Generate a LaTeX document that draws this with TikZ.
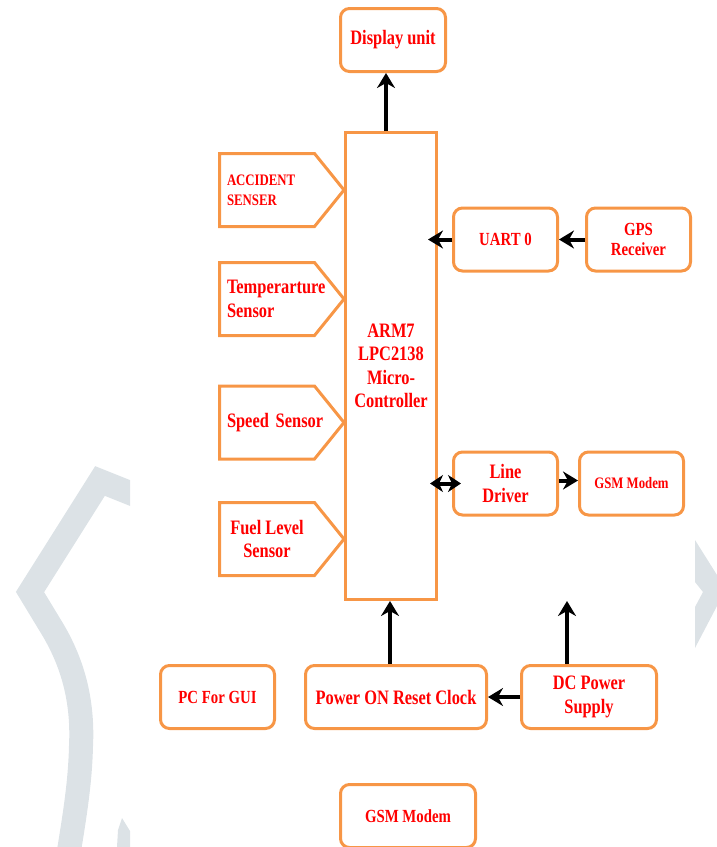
\documentclass[tikz,border=0pt]{standalone}
\usepackage{fontspec}
\setmainfont{Liberation Serif}[FakeStretch=0.8]
\usetikzlibrary{arrows.meta, positioning}
\definecolor{boxorange}{HTML}{F79646}
\definecolor{textred}{HTML}{FF0000}
\definecolor{markgrey}{HTML}{DCE2E6}
\newcommand{\txtbig}{\bfseries\fontsize{20.5}{23.5}\selectfont}
\newcommand{\txtmid}{\bfseries\fontsize{18.5}{20}\selectfont}
\newcommand{\txttiny}{\bfseries\fontsize{16}{20}\selectfont}

\begin{document}
\begin{tikzpicture}[x=1pt, y=-1pt,
block/.style  ={rectangle, draw=boxorange, line width=3pt, rounded corners=9pt, text=textred, align=center, font=\txtbig, minimum width=104pt, minimum height=63pt},
chip/.style   ={rectangle, draw=boxorange, line width=3pt, text=textred, align=center, font=\txtbig, minimum width=91pt, minimum height=467pt},
sensor/.style ={rectangle, text=textred, font=\txtbig, minimum width=95pt, minimum height=73pt, inner sep=0pt, outer sep=0pt},
outline/.style={draw=boxorange, line width=3pt, line join=miter},
line/.style   ={draw, line width=4pt, -{Stealth[length=15pt,width=18pt,inset=5pt]}},
biline/.style ={draw, line width=4pt, {Stealth[length=13pt,width=17pt,inset=4pt]}-{Stealth[length=13pt,width=17pt,inset=4pt]}},
node distance=26pt]

\clip (0,0) rectangle (717,847);

% grey mark behind the diagram
\begin{scope}
\clip (0,0) rectangle (130,847);
\draw[markgrey, line width=24pt, line join=miter] (140,497) -- (100,481) -- (30,592) -- (50,625) .. controls (75,665) and (83,705) .. (81,746) .. controls (80,790) and (72,830) .. (66,870);
\fill[markgrey] (117,847) -- (118,830) -- (122,818) -- (130,831) -- (130,847) -- cycle;
\end{scope}
\fill[markgrey] (695,540) -- (717,575) -- (717,606) -- (695,648) -- (695,607) -- (703,592) -- (695,582) -- cycle;

% Define the nodes
\node[chip]                              (mcu)   at (391,366)   {ARM7\\LPC2138\\Micro-\\Controller};
\node[block, minimum width=105pt]        (disp)  at (393,40)    {Display unit};

\node[sensor, text width=80pt, align=left, font=\txttiny] (acc)   at (267,190)   {ACCIDENT\\SENSER};
\node[sensor, text width=80pt, align=left]               (temp)  at (267,299)   {Temperarture\\Sensor};
\node[sensor, text width=80pt, align=left]               (speed) at (267,422.5) {\mbox{Speed Sensor}};
\node[sensor, align=center]                              (fuel)  at (267,539)   {Fuel Level\\Sensor};

\node[block, font=\txtmid]                                (uart)  at (505.5,239.5) {UART 0};
\node[block, font=\txtmid, right=26pt of uart]            (gps)   {GPS\\Receiver};
\node[block]                                              (drv)   at (505.5,483.5) {Line\\Driver};
\node[block, font=\txttiny, right=19pt of drv]            (gsm)   {GSM Modem};

\node[block, minimum width=181pt]                         (por)   at (396,697)   {Power ON Reset Clock};
\node[block, font=\txtmid, minimum width=114pt, left=28pt of por] (pc) {PC For GUI};
\node[block, minimum width=135pt, right=32pt of por]      (dc)    {DC Power\\Supply};
\node[block, font=\txtmid, minimum width=135pt]           (gsmb)  at (408,816)   {GSM Modem};

\coordinate (dcend) at ([xshift=-22pt]dc.north |- mcu.south);

% sensor outlines
\foreach \s in {acc,temp,speed,fuel}
  \draw[outline] (\s.north west) -- (\s.north east) -- (\s.east -| mcu.west) -- (\s.south east) -- (\s.south west) -- cycle;

% Connect the nodes
\path[line] ([xshift=-5pt]mcu.north) -- ([xshift=-5pt]mcu.north |- disp.south);
\path[line] (uart.west) -- ([xshift=-10pt]mcu.east |- uart.west);
\path[line] (gps.west) -- (uart.east);
\path[biline] ([xshift=-8pt]mcu.east |- drv.west) -- ([xshift=9pt]drv.west);
\path[line] ([yshift=3pt]drv.east) -- ([yshift=3pt]gsm.west);
\path[line] ([xshift=-6pt]por.north) -- ([xshift=-6pt]por.north |- mcu.south);
\path[line] (dc.west) -- (por.east);
\path[line] ([xshift=-22pt]dc.north) -- (dcend);

\end{tikzpicture}
\end{document}
